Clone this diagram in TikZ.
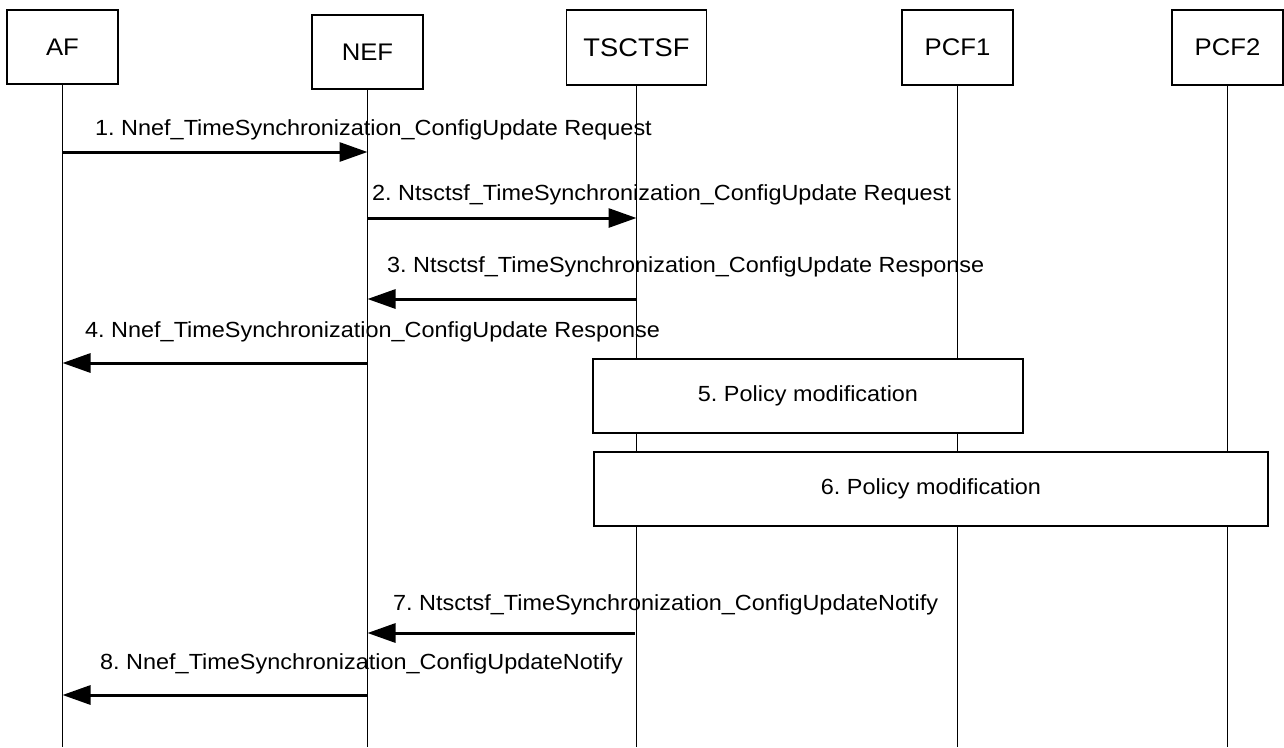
\documentclass[tikz,border=0pt]{standalone}
\usepackage{fontspec}
\setmainfont{Liberation Sans}[FakeStretch=1.07]
\usetikzlibrary{arrows.meta}
\tikzset{
  ent/.style={draw, line width=1.5pt, minimum width=111pt, minimum height=74pt, inner sep=0pt, font=\fontsize{24}{26}\selectfont},
  life/.style={line width=1.5pt},
  msg/.style={line width=3pt, -{Triangle[length=28pt,width=19pt]}},
  lbl/.style={anchor=west, inner sep=0pt, font=\fontsize{21.9}{26}\selectfont},
  proc/.style={draw, line width=1.2pt, fill=white, inner sep=0pt, font=\fontsize{21.9}{26}\selectfont}
}
\begin{document}
\frenchspacing
\begin{tikzpicture}[x=1pt,y=-1pt]
\useasboundingbox (0,0) rectangle (1284,747);
% entities
\node[ent] (af) at (62.5,47) {AF};
\node[ent] (nef) at (367.5,52) {NEF};
\node[ent, minimum width=140pt, minimum height=75pt, font=\fontsize{25.5}{28}\selectfont] (tsc) at (636.5,47.5) {TSCTSF};
\node[ent, minimum height=75pt] (pcf1) at (957.5,47.5) {PCF1};
\node[ent, minimum height=75pt] (pcf2) at (1227.5,47.5) {PCF2};
% bottom ends
\coordinate (bot) at (0,747);
\draw[life] (af.south) -- (af.south |- bot);
\draw[life] (nef.south) -- (nef.south |- bot);
\draw[life] (tsc.south) -- (tsc.south |- bot);
\draw[life] (pcf1.south) -- (pcf1.south |- bot);
\draw[life] (pcf2.south) -- (pcf2.south |- bot);
% message end points
\coordinate (m1a) at (62.5,152);  \coordinate (m1b) at (367.5,152);
\coordinate (m2a) at (367.5,218); \coordinate (m2b) at (636.5,218);
\coordinate (m3a) at (636.5,299); \coordinate (m3b) at (367.5,299);
\coordinate (m4a) at (367.5,363); \coordinate (m4b) at (62.5,363);
\coordinate (m7a) at (634.5,633); \coordinate (m7b) at (367.5,633);
\coordinate (m8a) at (367.5,695); \coordinate (m8b) at (62.5,695);
\draw[msg] (m1a) -- (m1b);
\draw[msg] (m2a) -- (m2b);
\draw[msg] (m3a) -- (m3b);
\draw[msg] (m4a) -- (m4b);
\draw[msg] (m7a) -- (m7b);
\draw[msg] (m8a) -- (m8b);
% labels
\node[lbl] (l1) at (95,130) {1. Nnef\_TimeSynchronization\_ConfigUpdate Request};
\node[lbl] (l2) at (372,195) {2. Ntsctsf\_TimeSynchronization\_ConfigUpdate Request};
\node[lbl] (l3) at (387,267) {3. Ntsctsf\_TimeSynchronization\_ConfigUpdate Response};
\node[lbl] (l4) at (85,332) {4. Nnef\_TimeSynchronization\_ConfigUpdate Response};
\node[lbl] (l7) at (393,605) {7. Ntsctsf\_TimeSynchronization\_ConfigUpdateNotify};
\node[lbl] (l8) at (100,664) {8. Nnef\_TimeSynchronization\_ConfigUpdateNotify};
% process boxes
\node[proc, minimum width=430pt, minimum height=74pt] (p5) at (808,396) {5. Policy modification};
\node[proc, minimum width=674pt, minimum height=74pt] (p6) at (931,489) {6. Policy modification};
\end{tikzpicture}
\end{document}
